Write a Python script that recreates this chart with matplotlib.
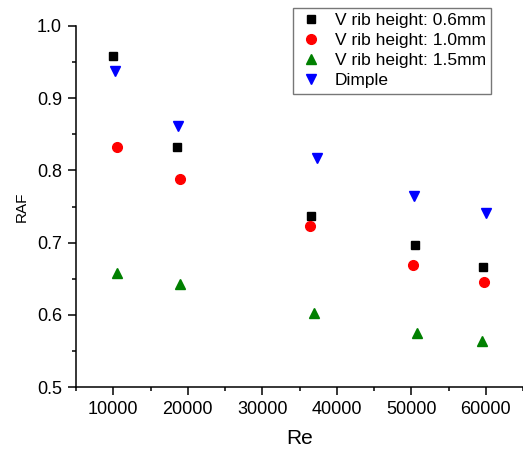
import matplotlib
matplotlib.use("Agg")
import matplotlib.pyplot as plt
from matplotlib.ticker import MultipleLocator

plt.rcParams['font.family'] = ['Liberation Sans', 'DejaVu Sans']

re_06 = [10000, 18500, 36600, 50500, 59600]
raf_06 = [0.958, 0.833, 0.737, 0.696, 0.666]
re_10 = [10550, 18950, 36450, 50200, 59800]
raf_10 = [0.832, 0.788, 0.723, 0.669, 0.646]
re_15 = [10500, 19000, 36950, 50750, 59500]
raf_15 = [0.658, 0.642, 0.602, 0.575, 0.564]
re_dim = [10200, 18700, 37300, 50400, 60000]
raf_dim = [0.937, 0.861, 0.817, 0.765, 0.741]

labels = ["V rib height: 0.6mm", "V rib height: 1.0mm", "V rib height: 1.5mm", "Dimple"]
xticks = [10000, 20000, 30000, 40000, 50000, 60000]
yticks = [0.5, 0.6, 0.7, 0.8, 0.9, 1.0]

fig = plt.figure(figsize=(5.23, 4.51), dpi=100)
ax = fig.add_axes([76/523, 1-387/451, 1-76/523, (387-26)/451])

ax.plot(re_06, raf_06, 's', color='black', markersize=6, linestyle='none', label=labels[0])
ax.plot(re_10, raf_10, 'o', color='red', markersize=7, linestyle='none', label=labels[1])
ax.plot(re_15, raf_15, '^', color='green', markersize=7.5, linestyle='none', label=labels[2])
ax.plot(re_dim, raf_dim, 'v', color='blue', markersize=7.5, linestyle='none', label=labels[3])

ax.set_xlim(5000, 65000)
ax.set_ylim(0.5, 1.0)
ax.set_xticks(xticks)
ax.set_yticks(yticks)
ax.set_yticklabels([f"{v:.1f}" for v in yticks])
ax.xaxis.set_minor_locator(MultipleLocator(5000))
ax.yaxis.set_minor_locator(MultipleLocator(0.05))
ax.tick_params(which='major', direction='out', length=6, width=1.1, labelsize=13, pad=4)
ax.tick_params(which='minor', direction='out', length=3, width=1.1)
for s in ['top', 'right']:
    ax.spines[s].set_visible(False)
for s in ['left', 'bottom']:
    ax.spines[s].set_linewidth(1.1)

ax.set_xlabel("Re", fontsize=15, labelpad=8)
ax.set_ylabel("RAF", fontsize=11, labelpad=6)

leg = ax.legend(loc='upper left', bbox_to_anchor=((293-76)/447, 1.05), fontsize=12.5,
                frameon=True, fancybox=False, edgecolor='#555555', handletextpad=0.6,
                borderpad=0.3, labelspacing=0.28, handlelength=1.5, borderaxespad=0)
leg.get_frame().set_linewidth(1.0)

fig.savefig("out.png", dpi=100)
